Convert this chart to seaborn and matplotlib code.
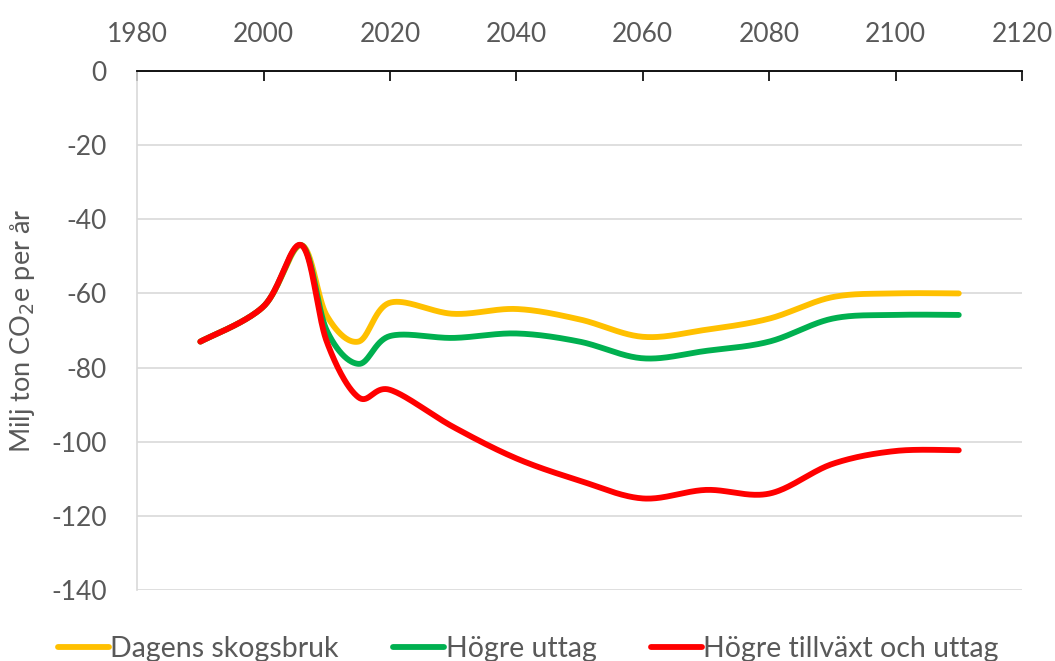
import numpy as np
import pandas as pd
import matplotlib
matplotlib.use("Agg")
import matplotlib.pyplot as plt
import seaborn as sns

years = [1990, 2000, 2006, 2010, 2015, 2020, 2030, 2040, 2050, 2060, 2070, 2080, 2090, 2100, 2110]
dagens = [-73, -63.5, -47, -66, -73, -62.5, -65.5, -64.2, -67, -71.7, -69.8, -66.8, -61, -60, -60]
hogre_uttag = [-73, -63.5, -47, -70, -79, -71.5, -72, -70.8, -73, -77.5, -75.5, -73, -66.8, -65.8, -65.8]
hogre_tillvaxt = [-73, -63.5, -47, -73, -88, -86, -96, -104.5, -110.5, -115.3, -113, -114, -106, -102.5, -102.3]

series_names = ["Dagens skogsbruk", "Högre uttag", "Högre tillväxt och uttag"]
colors = ["#FFC000", "#00B050", "#FF0000"]

def smooth(x, y, n=40):
    # Excel-style smoothed line: cubic Bezier with Catmull-Rom control points
    x = np.asarray(x, float); y = np.asarray(y, float)
    px = np.concatenate([[x[0]], x, [x[-1]]])
    py = np.concatenate([[y[0]], y, [y[-1]]])
    xs, ys = [], []
    t = np.linspace(0, 1, n)
    for i in range(1, len(px) - 2):
        p0 = np.array([px[i], py[i]]); p3 = np.array([px[i + 1], py[i + 1]])
        p1 = p0 + (np.array([px[i + 1], py[i + 1]]) - np.array([px[i - 1], py[i - 1]])) / 6
        p2 = p3 - (np.array([px[i + 2], py[i + 2]]) - np.array([px[i], py[i]])) / 6
        b = ((1 - t) ** 3)[:, None] * p0 + (3 * (1 - t) ** 2 * t)[:, None] * p1 \
            + (3 * (1 - t) * t ** 2)[:, None] * p2 + (t ** 3)[:, None] * p3
        xs.extend(b[:, 0]); ys.extend(b[:, 1])
    return np.array(xs), np.array(ys)

frames = []
for name, vals in zip(series_names, [dagens, hogre_uttag, hogre_tillvaxt]):
    sx, sy = smooth(years, vals)
    frames.append(pd.DataFrame({"x": sx, "y": sy, "serie": name}))
df = pd.concat(frames, ignore_index=True)

sns.set_theme(style="white")
plt.rcParams["font.family"] = ["Lato", "DejaVu Sans"]
plt.rcParams["axes.unicode_minus"] = False

fig = plt.figure(figsize=(10.55, 6.61), dpi=100)
ax = fig.add_axes([0.13, 0.1074, 0.8387, 0.7852])

sns.lineplot(data=df, x="x", y="y", hue="serie", hue_order=series_names,
             palette=colors, estimator=None, sort=False, linewidth=4.2,
             ax=ax, legend=True)
for line in ax.lines:
    line.set_solid_capstyle("round")

ax.set_xlim(1980, 2120)
ax.set_ylim(-140, 0)
ax.set_xticks(np.arange(1980, 2121, 20))
ax.set_yticks(np.arange(-140, 1, 20))
ax.xaxis.tick_top()
ax.tick_params(axis="x", direction="in", length=7, width=1.2, color="black",
               labelsize=19, labelcolor="#595959", pad=17)
ax.tick_params(axis="y", length=0, labelsize=19, labelcolor="#595959", pad=22)
ax.yaxis.grid(True, color="#D9D9D9", linewidth=1.2)
ax.xaxis.grid(False)
ax.set_axisbelow(True)
for s in ["right", "bottom"]:
    ax.spines[s].set_visible(False)
ax.spines["top"].set_color("black")
ax.spines["top"].set_linewidth(1.3)
ax.spines["left"].set_color("#D9D9D9")
ax.spines["left"].set_linewidth(1.2)
ax.set_xlabel("")
ax.set_ylabel("Milj ton CO$_2$e per år", fontsize=19.5, color="#595959", labelpad=10)

leg = ax.legend(loc="upper center", bbox_to_anchor=(0.442, -0.04), ncol=3, frameon=False,
                fontsize=20.5, handlelength=1.8, handletextpad=0.05, columnspacing=1.9)
for t in leg.get_texts():
    t.set_color("#595959")
for h in leg.get_lines():
    h.set_linewidth(4.2)
    h.set_solid_capstyle("round")

fig.savefig("out.png", dpi=100)
